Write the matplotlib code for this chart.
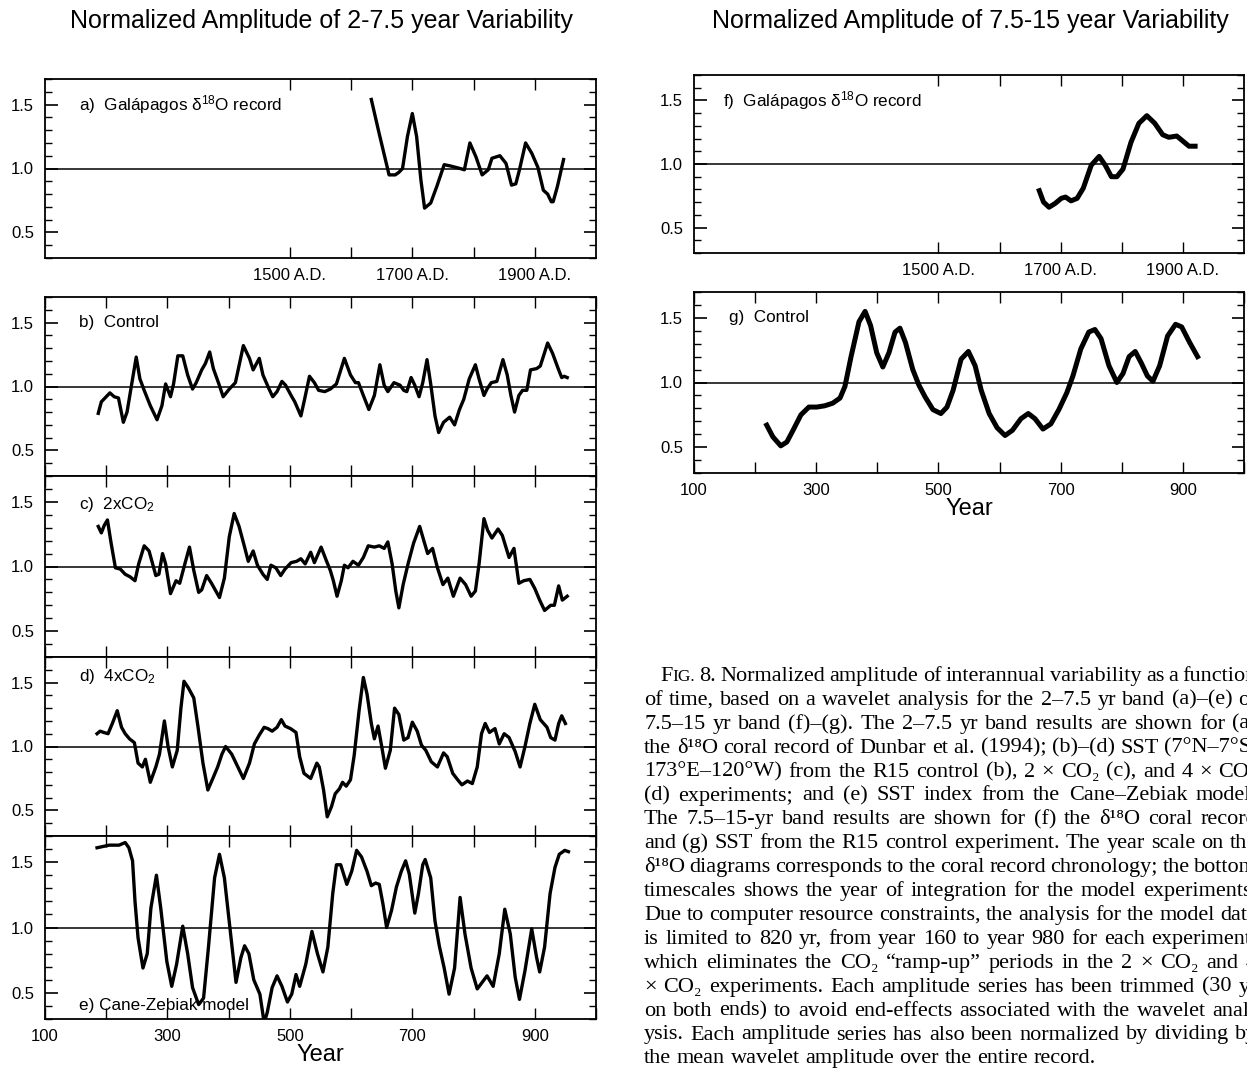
import numpy as np
import matplotlib
matplotlib.use("Agg")
import matplotlib.pyplot as plt
from matplotlib.ticker import FixedLocator, MultipleLocator, FuncFormatter
from matplotlib.transforms import blended_transform_factory

plt.rcParams['font.family'] = ['Liberation Sans', 'DejaVu Sans']
plt.rcParams['mathtext.default'] = 'regular'

# ---- data ----
# (a) Galapagos d18O record, 2-7.5 yr band (years A.D.)
a_year = [1633, 1646, 1662, 1672, 1678, 1684, 1692, 1700, 1707, 1714, 1720, 1730,
          1740, 1752, 1762, 1778, 1785, 1794, 1804, 1814, 1824, 1830, 1843, 1853,
          1862, 1869, 1875, 1885, 1895, 1905, 1914, 1921, 1927, 1930, 1937, 1947]
a_amp = [1.54, 1.27, 0.95, 0.95, 0.97, 1.00, 1.25, 1.43, 1.25, 0.91, 0.69, 0.73,
         0.86, 1.03, 1.02, 1.00, 0.99, 1.20, 1.09, 0.95, 0.99, 1.08, 1.10, 1.04,
         0.87, 0.88, 0.99, 1.20, 1.12, 1.01, 0.83, 0.80, 0.74, 0.74, 0.86, 1.07]

# (b) control
b_year = [187, 192, 200, 206, 213, 220, 228, 234, 242, 249, 255, 262, 272, 283, 291,
          297, 305, 310, 317, 325, 333, 341, 347, 356, 362, 369, 375, 384, 391, 401,
          411, 424, 434, 440, 450, 456, 466, 472, 479, 487, 493, 502, 508, 518, 524,
          532, 540, 547, 557, 566, 576, 589, 599, 607, 612, 620, 629, 638, 647, 654,
          660, 670, 680, 686, 691, 698, 704, 711, 717, 724, 730, 737, 743, 751, 761,
          769, 777, 784, 793, 803, 809, 817, 822, 829, 838, 848, 855, 861, 867, 874,
          880, 887, 893, 903, 909, 921, 929, 939, 944, 948, 953]
b_amp = [0.79, 0.88, 0.92, 0.95, 0.92, 0.91, 0.72, 0.80, 1.03, 1.23, 1.06, 0.97, 0.85,
         0.74, 0.85, 1.02, 0.92, 1.02, 1.24, 1.24, 1.09, 0.98, 1.03, 1.13, 1.18, 1.27,
         1.14, 1.02, 0.92, 0.98, 1.03, 1.32, 1.22, 1.13, 1.22, 1.09, 0.98, 0.92, 0.96,
         1.04, 1.01, 0.93, 0.88, 0.77, 0.90, 1.08, 1.03, 0.97, 0.96, 0.98, 1.02, 1.22,
         1.09, 1.03, 1.03, 0.93, 0.82, 0.93, 1.17, 1.01, 0.96, 1.03, 1.01, 0.97, 0.96,
         1.07, 1.01, 0.92, 1.03, 1.21, 1.02, 0.77, 0.64, 0.72, 0.76, 0.70, 0.82, 0.90,
         1.06, 1.17, 1.06, 0.93, 0.98, 1.03, 1.04, 1.21, 1.09, 0.93, 0.80, 0.93, 0.97,
         0.97, 1.13, 1.14, 1.16, 1.34, 1.26, 1.13, 1.07, 1.08, 1.07]

# (c) 2xCO2
c_year = [187, 192, 197, 202, 208, 215, 223, 231, 239, 247, 253, 262, 270, 281, 286,
          292, 297, 305, 314, 320, 329, 336, 343, 351, 356, 364, 372, 385, 393, 401,
          409, 417, 426, 432, 440, 447, 456, 463, 469, 477, 485, 492, 502, 511, 518,
          525, 534, 540, 551, 560, 566, 571, 577, 584, 589, 595, 603, 612, 620, 628,
          638, 646, 654, 660, 667, 673, 678, 685, 693, 702, 712, 720, 725, 733, 741,
          750, 758, 767, 778, 787, 796, 803, 809, 817, 823, 830, 840, 847, 858, 866,
          874, 882, 892, 900, 908, 916, 926, 932, 939, 945, 953]
c_amp = [1.31, 1.26, 1.32, 1.36, 1.18, 0.99, 0.98, 0.94, 0.92, 0.89, 1.02, 1.16, 1.12,
         0.93, 0.94, 1.10, 1.02, 0.79, 0.89, 0.87, 1.03, 1.15, 0.97, 0.80, 0.82, 0.93,
         0.87, 0.76, 0.91, 1.23, 1.41, 1.31, 1.15, 1.04, 1.12, 1.01, 0.94, 0.90, 1.01,
         0.99, 0.93, 0.98, 1.03, 1.04, 1.06, 1.02, 1.11, 1.03, 1.15, 1.04, 0.97, 0.89,
         0.77, 0.89, 1.01, 0.99, 1.04, 1.01, 1.07, 1.16, 1.15, 1.16, 1.14, 1.19, 1.02,
         0.81, 0.68, 0.86, 1.02, 1.18, 1.31, 1.18, 1.10, 1.14, 0.99, 0.86, 0.91, 0.77,
         0.91, 0.86, 0.77, 0.81, 1.02, 1.37, 1.28, 1.22, 1.29, 1.24, 1.07, 1.14, 0.87,
         0.89, 0.90, 0.83, 0.74, 0.66, 0.70, 0.70, 0.85, 0.74, 0.77]

# (d) 4xCO2
d_year = [185, 190, 196, 203, 210, 218, 225, 231, 238, 246, 252, 259, 264, 272, 281,
          287, 295, 301, 308, 316, 322, 327, 334, 343, 350, 358, 366, 375, 382, 389,
          395, 405, 415, 424, 434, 442, 450, 458, 464, 471, 479, 486, 492, 501, 510,
          516, 523, 534, 544, 548, 555, 561, 568, 574, 581, 586, 592, 599, 605, 613,
          620, 626, 633, 638, 644, 650, 656, 664, 671, 678, 686, 693, 700, 708, 715,
          722, 731, 741, 751, 757, 766, 774, 781, 790, 798, 806, 813, 819, 826, 835,
          842, 850, 858, 868, 876, 884, 892, 900, 909, 920, 926, 933, 939, 944, 950]
d_amp = [1.10, 1.12, 1.11, 1.10, 1.18, 1.28, 1.15, 1.10, 1.06, 1.03, 0.87, 0.84, 0.90,
         0.72, 0.84, 0.94, 1.20, 1.00, 0.84, 0.97, 1.30, 1.51, 1.46, 1.38, 1.15, 0.87,
         0.66, 0.76, 0.84, 0.94, 1.00, 0.94, 0.84, 0.75, 0.87, 1.02, 1.09, 1.15, 1.14,
         1.12, 1.15, 1.21, 1.16, 1.14, 1.11, 0.92, 0.79, 0.75, 0.87, 0.84, 0.66, 0.45,
         0.53, 0.63, 0.67, 0.72, 0.69, 0.74, 0.93, 1.28, 1.54, 1.41, 1.18, 1.06, 1.16,
         1.00, 0.83, 0.97, 1.30, 1.25, 1.05, 1.07, 1.19, 1.12, 1.01, 0.97, 0.88, 0.84,
         0.95, 0.92, 0.79, 0.74, 0.70, 0.73, 0.71, 0.84, 1.10, 1.18, 1.11, 1.14, 1.02,
         1.10, 1.07, 0.96, 0.84, 1.00, 1.18, 1.33, 1.21, 1.15, 1.07, 1.05, 1.18, 1.24,
         1.18]

# (e) Cane-Zebiak model
e_year = [185, 205, 221, 231, 237, 243, 247, 252, 260, 267, 273, 282, 289, 299, 307,
          315, 325, 333, 341, 351, 359, 367, 377, 385, 393, 402, 412, 420, 426, 433,
          441, 451, 458, 463, 471, 479, 487, 496, 503, 510, 516, 526, 536, 545, 554,
          562, 570, 576, 583, 593, 601, 609, 617, 626, 633, 640, 646, 652, 658, 666,
          674, 682, 689, 695, 704, 710, 717, 721, 730, 737, 744, 752, 760, 769, 778,
          786, 796, 806, 814, 822, 832, 842, 851, 860, 868, 875, 884, 895, 903, 908,
          916, 925, 933, 940, 949, 955]
e_amp = [1.61, 1.63, 1.63, 1.65, 1.61, 1.51, 1.20, 0.92, 0.69, 0.80, 1.15, 1.40, 1.15,
         0.74, 0.55, 0.72, 1.01, 0.80, 0.54, 0.41, 0.46, 0.85, 1.38, 1.56, 1.38, 1.00,
         0.58, 0.77, 0.86, 0.80, 0.60, 0.49, 0.27, 0.35, 0.54, 0.63, 0.55, 0.43, 0.49,
         0.64, 0.55, 0.72, 0.97, 0.80, 0.66, 0.85, 1.26, 1.48, 1.48, 1.33, 1.43, 1.59,
         1.54, 1.43, 1.32, 1.34, 1.33, 1.18, 1.00, 1.13, 1.31, 1.43, 1.51, 1.41, 1.11,
         1.26, 1.48, 1.52, 1.38, 1.05, 0.86, 0.69, 0.49, 0.69, 1.23, 0.95, 0.69, 0.53,
         0.58, 0.63, 0.55, 0.80, 1.14, 0.95, 0.62, 0.45, 0.67, 0.99, 0.77, 0.66, 0.85,
         1.26, 1.46, 1.56, 1.59, 1.58]

# (f) Galapagos d18O record, 7.5-15 yr band (years A.D.)
f_year = [1665, 1672, 1681, 1691, 1701, 1708, 1717, 1727, 1737, 1750, 1763, 1773, 1783,
          1792, 1802, 1815, 1828, 1841, 1854, 1867, 1877, 1890, 1900, 1910, 1920]
f_amp = [0.79, 0.70, 0.66, 0.69, 0.73, 0.74, 0.71, 0.73, 0.81, 0.99, 1.06, 0.99, 0.90,
         0.90, 0.96, 1.17, 1.32, 1.38, 1.32, 1.23, 1.21, 1.22, 1.18, 1.14, 1.14]

# (g) control, 7.5-15 yr band
g_year = [219, 229, 242, 252, 262, 275, 288, 301, 314, 327, 339, 347, 357, 370, 380,
          389, 399, 409, 419, 429, 437, 446, 458, 468, 478, 491, 504, 514, 524, 537,
          549, 560, 570, 583, 596, 609, 621, 635, 647, 658, 671, 684, 697, 710, 720,
          733, 746, 756, 766, 779, 792, 802, 812, 822, 832, 842, 851, 862, 875, 888,
          898, 911, 924]
g_amp = [0.67, 0.58, 0.51, 0.54, 0.63, 0.75, 0.81, 0.81, 0.82, 0.84, 0.88, 0.97, 1.20,
         1.47, 1.55, 1.44, 1.23, 1.12, 1.23, 1.39, 1.42, 1.31, 1.10, 0.98, 0.89, 0.79,
         0.76, 0.81, 0.94, 1.18, 1.24, 1.13, 0.94, 0.76, 0.65, 0.59, 0.63, 0.72, 0.76,
         0.72, 0.64, 0.68, 0.79, 0.92, 1.05, 1.26, 1.39, 1.41, 1.34, 1.13, 1.00, 1.07,
         1.20, 1.24, 1.15, 1.05, 1.01, 1.13, 1.36, 1.45, 1.43, 1.31, 1.20]

model_ticks = list(range(100, 1001, 100))
model_labels = [100, 300, 500, 700, 900]
coral_ticks = [1500, 1600, 1700, 1800, 1900]
coral_labels = [1500, 1700, 1900]

W, H = 1247, 1068
fig = plt.figure(figsize=(W / 100, H / 100), dpi=100)


def box(l, t, r, b):
    return [l / W, 1 - b / H, (r - l) / W, (b - t) / H]


def setup(ax, xlim, ticks, labels, fmt, show_labels):
    ax.set_xlim(*xlim)
    ax.set_ylim(0.3, 1.7)
    ax.axhline(1.0, color='black', lw=1.1, zorder=1)
    for s in ax.spines.values():
        s.set_linewidth(1.3)
    ax.yaxis.set_major_locator(FixedLocator([0.5, 1.0, 1.5]))
    ax.yaxis.set_minor_locator(MultipleLocator(0.1))
    ax.yaxis.set_major_formatter(FuncFormatter(lambda v, p: f"{v:.1f}"))
    ax.tick_params(axis='y', which='both', direction='in', left=True, right=True)
    ax.tick_params(axis='y', which='major', length=9, width=1.2, labelsize=12, pad=8)
    ax.tick_params(axis='y', which='minor', length=5, width=1.0)
    ax.xaxis.set_major_locator(FixedLocator(ticks))
    ax.xaxis.set_major_formatter(
        FuncFormatter(lambda v, p: fmt(v) if round(v) in labels else ""))
    ax.tick_params(axis='x', which='major', direction='in', top=True, bottom=True,
                   length=8, width=1.0, labelsize=12, pad=7,
                   labelbottom=show_labels)


def model_fmt(v):
    return f"{int(round(v))}"


def coral_fmt(v):
    return f"{int(round(v))} A.D."


lw_a = 2.4
lw_b = 3.6

# left column
axa = fig.add_axes(box(45, 79, 596, 258))
setup(axa, (1100, 2000), coral_ticks, coral_labels, coral_fmt, True)
axa.plot(a_year, a_amp, color='black', lw=lw_a, solid_joinstyle='round')

left_boxes = [(297, 476), (476, 657), (657, 836), (836, 1019)]
left_data = [(b_year, b_amp), (c_year, c_amp), (d_year, d_amp), (e_year, e_amp)]
left_axes = []
for i, ((t, b), (yr, amp)) in enumerate(zip(left_boxes, left_data)):
    ax = fig.add_axes(box(45, t, 596, b))
    setup(ax, (100, 1000), model_ticks, model_labels, model_fmt, i == 3)
    ax.plot(yr, amp, color='black', lw=lw_a, solid_joinstyle='round', clip_on=True)
    left_axes.append(ax)
axb, axc, axd, axe = left_axes
axe.set_xlabel('Year', fontsize=17, labelpad=0)

# right column
axf = fig.add_axes(box(694, 75, 1244, 253))
setup(axf, (1100, 2000), coral_ticks, coral_labels, coral_fmt, True)
axf.plot(f_year, f_amp, color='black', lw=lw_b, solid_joinstyle='round')

axg = fig.add_axes(box(694, 292, 1244, 473))
setup(axg, (100, 1000), model_ticks, model_labels, model_fmt, True)
axg.plot(g_year, g_amp, color='black', lw=lw_b, solid_joinstyle='round')
axg.set_xlabel('Year', fontsize=17, labelpad=0)

# panel labels
panel_text = [
    (axa, 0.062, 1.5, "a)  Galápagos δ$^{18}$O record"),
    (axb, 0.062, 1.5, "b)  Control"),
    (axc, 0.062, 1.48, "c)  2xCO$_2$"),
    (axd, 0.062, 1.55, "d)  4xCO$_2$"),
    (axe, 0.062, 0.40, "e) Cane-Zebiak model"),
    (axf, 0.053, 1.5, "f)  Galápagos δ$^{18}$O record"),
    (axg, 0.063, 1.5, "g)  Control"),
]
for ax, x, y, s in panel_text:
    tr = blended_transform_factory(ax.transAxes, ax.transData)
    ax.text(x, y, s, transform=tr, fontsize=12.3, va='center', ha='left')

# column titles
fig.text(321 / W, 1 - 21 / H, "Normalized Amplitude of 2-7.5 year Variability",
         fontsize=18, ha='center', va='center')
fig.text(970 / W, 1 - 21 / H, "Normalized Amplitude of 7.5-15 year Variability",
         fontsize=18, ha='center', va='center')

# caption, justified line by line
serif = ['Liberation Serif', 'DejaVu Serif']
cap_size = 16
cap_lines = [
    "FIG. 8. Normalized amplitude of interannual variability as a function",
    "of time, based on a wavelet analysis for the 2–7.5 yr band (a)–(e) or",
    "7.5–15 yr band (f)–(g). The 2–7.5 yr band results are shown for (a)",
    "the δ¹⁸O coral record of Dunbar et al. (1994); (b)–(d) SST (7°N–7°S,",
    "173°E–120°W) from the R15 control (b), 2 × CO₂ (c), and 4 × CO₂",
    "(d) experiments; and (e) SST index from the Cane–Zebiak model.",
    "The 7.5–15-yr band results are shown for (f) the δ¹⁸O coral record",
    "and (g) SST from the R15 control experiment. The year scale on the",
    "δ¹⁸O diagrams corresponds to the coral record chronology; the bottom",
    "timescales shows the year of integration for the model experiments.",
    "Due to computer resource constraints, the analysis for the model data",
    "is limited to 820 yr, from year 160 to year 980 for each experiment,",
    "which eliminates the CO₂ “ramp-up” periods in the 2 × CO₂ and 4",
    "× CO₂ experiments. Each amplitude series has been trimmed (30 yr",
    "on both ends) to avoid end-effects associated with the wavelet anal-",
    "ysis. Each amplitude series has also been normalized by dividing by",
    "the mean wavelet amplitude over the entire record.",
]

renderer = fig.canvas.get_renderer()


def pieces_of(word):
    if word == "FIG.":
        return [("F", cap_size), ("IG.", cap_size * 0.78)]
    return [(word, cap_size)]


def measure(s, fs):
    t = fig.text(0, 0, s, fontsize=fs, family=serif)
    w = t.get_window_extent(renderer).width
    t.remove()
    return w


space_w = measure("a a", cap_size) - 2 * measure("a", cap_size)
right_px = 1257
base0 = 681
step = 23.9
for i, line in enumerate(cap_lines):
    words = [pieces_of(w) for w in line.split(" ")]
    widths = [[measure(s, fs) for s, fs in w] for w in words]
    total = sum(sum(ws) for ws in widths)
    x0 = 660 if i == 0 else 644
    if i == len(cap_lines) - 1 or len(words) < 2:
        gap = space_w
    else:
        gap = max((right_px - x0 - total) / (len(words) - 1), 0.55 * space_w)
    y = 1 - (base0 + i * step) / H
    x = x0
    for w, ws in zip(words, widths):
        for (s, fs), wd in zip(w, ws):
            fig.text(x / W, y, s, fontsize=fs, family=serif, ha='left', va='baseline')
            x += wd
        x += gap

fig.savefig("out.png", dpi=100)
